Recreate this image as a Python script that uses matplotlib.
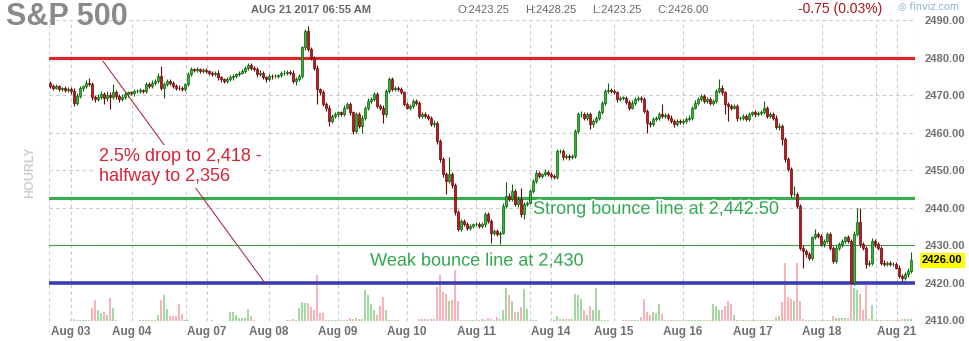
import numpy as np
import matplotlib
matplotlib.use('Agg')
import matplotlib.pyplot as plt
import matplotlib.patheffects as pe

plt.rcParams['font.family'] = ['Liberation Sans', 'DejaVu Sans']

# hourly ES closes (one value per bar)
closes = [
    2472.5, 2472.0, 2472.3, 2471.6, 2471.8, 2471.3, 2471.6, 2471.0, 2468.0, 2469.8,
    2471.8, 2472.3, 2473.3, 2473.0, 2469.5, 2469.0, 2469.5, 2470.2, 2469.3, 2470.0,
    2469.5, 2470.7, 2469.8, 2469.0, 2469.5, 2470.2, 2470.7, 2470.5, 2471.0, 2471.1,
    2471.3, 2471.0, 2472.9, 2472.5, 2473.3, 2473.8, 2475.1, 2472.0, 2472.9, 2473.8,
    2473.3, 2472.5, 2472.0, 2471.8, 2471.6, 2472.9, 2475.6, 2476.9, 2476.7, 2476.9,
    2476.5, 2476.7, 2476.4, 2476.0, 2475.6, 2476.0, 2474.7, 2474.2, 2473.8, 2474.2,
    2474.7, 2475.1, 2475.6, 2476.0, 2476.4, 2477.3, 2478.0, 2477.3, 2476.9, 2475.6,
    2476.0, 2474.7, 2474.2, 2475.1, 2475.0, 2475.1, 2475.3, 2475.8, 2476.0, 2476.2,
    2476.0, 2473.8, 2474.3, 2475.1, 2482.7, 2487.1, 2482.2, 2480.0, 2477.3, 2471.5,
    2470.7, 2467.6, 2466.7, 2463.1, 2464.5, 2464.9, 2465.4, 2465.0, 2466.7, 2467.6,
    2465.4, 2460.5, 2464.9, 2461.8, 2464.0, 2466.7, 2468.5, 2469.0, 2470.2, 2467.1,
    2466.7, 2464.9, 2471.1, 2474.2, 2471.6, 2472.0, 2471.6, 2470.7, 2467.6, 2466.7,
    2467.1, 2468.5, 2468.0, 2464.5, 2464.9, 2464.5, 2464.0, 2462.2, 2462.7, 2457.8,
    2452.9, 2448.9, 2447.2, 2448.9, 2446.0, 2438.8, 2434.3, 2436.5, 2435.6, 2434.7,
    2435.2, 2435.6, 2435.6, 2435.2, 2435.6, 2438.3, 2436.5, 2433.4, 2433.8, 2433.0,
    2433.4, 2440.5, 2443.2, 2442.3, 2444.5, 2440.9, 2442.3, 2438.3, 2440.9, 2441.4,
    2444.5, 2447.2, 2449.4, 2448.5, 2449.0, 2449.6, 2449.0, 2448.5, 2448.2, 2455.1,
    2455.1, 2453.4, 2453.8, 2453.4, 2453.8, 2460.5, 2464.9, 2464.9, 2464.0, 2464.9,
    2462.2, 2463.1, 2464.0, 2465.4, 2468.0, 2471.1, 2471.3, 2471.1, 2470.7, 2468.9,
    2469.3, 2469.3, 2468.2, 2466.7, 2468.0, 2468.9, 2469.3, 2468.9, 2465.8, 2462.7,
    2462.2, 2463.6, 2464.0, 2464.9, 2464.5, 2464.7, 2464.0, 2463.1, 2462.2, 2463.1,
    2462.9, 2463.1, 2463.6, 2464.0, 2466.7, 2468.0, 2468.9, 2469.8, 2468.5, 2468.9,
    2468.0, 2468.5, 2471.1, 2472.0, 2470.7, 2467.6, 2467.1, 2466.7, 2467.1, 2463.8,
    2464.0, 2464.5, 2463.6, 2464.9, 2465.4, 2464.9, 2465.2, 2465.4, 2466.7, 2464.5,
    2464.9, 2464.0, 2461.4, 2461.8, 2458.3, 2452.9, 2450.3, 2443.6, 2443.6, 2440.5,
    2429.4, 2428.5, 2427.6, 2426.7, 2432.1, 2433.0, 2432.5, 2430.3, 2431.2, 2433.0,
    2429.4, 2425.8, 2429.4, 2430.3, 2431.2, 2432.1, 2431.2, 2420.1, 2433.0, 2436.1,
    2430.3, 2429.4, 2425.0, 2425.4, 2431.2, 2430.3, 2429.4, 2425.4, 2425.0, 2425.4,
    2425.0, 2425.0, 2424.1, 2421.9, 2421.4, 2422.3, 2423.25, 2426.0,
]
first_open = 2473.25

# wick length above / below each body
wick_hi = [
    0.5, 0.4, 0.6, 0.5, 0.4, 0.5, 0.6, 0.5, 0.8, 0.7, 0.6, 0.5, 0.8, 1.2, 0.6, 0.5, 0.7, 0.9, 0.6, 1.0,
    0.8, 2.2, 0.6, 0.5, 0.7, 0.6, 0.5, 0.4, 0.5, 0.6, 0.5, 0.4, 0.6, 0.5, 0.7, 0.6, 0.8, 2.7, 0.6, 0.5,
    0.5, 0.4, 0.5, 0.6, 0.5, 0.4, 0.6, 0.5, 0.4, 0.5, 0.4, 0.5, 0.6, 0.4, 0.5, 0.5, 0.6, 0.5, 0.4, 0.5,
    0.6, 0.5, 0.4, 0.5, 0.6, 0.5, 0.6, 0.5, 0.4, 0.5, 0.6, 0.5, 0.4, 0.5, 0.4, 0.5, 0.4, 0.5, 0.6, 0.5,
    0.5, 0.6, 0.5, 0.4, 0.5, 0.4, 1.4, 0.6, 0.5, 0.8, 0.5, 0.6, 0.5, 0.7, 0.5, 0.6, 0.5, 0.4, 0.6, 0.5,
    0.7, 0.5, 0.6, 0.5, 0.6, 0.5, 0.8, 0.5, 0.6, 0.5, 0.5, 0.6, 0.5, 0.7, 0.6, 0.5, 0.5, 0.6, 0.5, 0.5,
    0.5, 0.6, 0.5, 0.5, 0.6, 0.5, 0.4, 0.5, 0.6, 0.5, 0.6, 0.5, 0.7, 4.5, 0.6, 0.5, 0.5, 0.6, 0.5, 0.5,
    0.5, 0.4, 0.5, 0.6, 0.5, 0.6, 0.5, 0.5, 0.6, 0.5, 0.5, 0.8, 3.6, 0.7, 1.8, 0.6, 0.8, 3.1, 0.6, 0.5,
    0.6, 0.5, 0.6, 0.5, 0.4, 0.6, 0.5, 0.5, 0.4, 0.6, 0.5, 0.6, 0.5, 0.4, 0.5, 0.6, 0.5, 0.8, 0.5, 0.6,
    0.5, 0.6, 0.5, 0.6, 0.5, 0.6, 2.0, 0.6, 0.5, 0.5, 0.6, 0.5, 0.5, 0.6, 0.7, 0.5, 0.6, 0.5, 0.5, 0.6,
    0.5, 0.6, 0.5, 0.6, 2.7, 0.5, 0.5, 0.6, 0.5, 0.5, 0.6, 0.5, 0.5, 0.6, 0.5, 0.6, 0.5, 0.6, 0.5, 0.6,
    0.5, 0.6, 0.5, 2.2, 0.6, 0.5, 0.5, 0.6, 0.5, 0.6, 0.5, 0.6, 0.5, 0.6, 0.5, 0.6, 0.5, 0.6, 1.8, 0.5,
    0.6, 0.5, 0.6, 0.8, 0.6, 0.5, 0.6, 0.5, 2.2, 0.6, 0.5, 0.6, 0.5, 0.6, 0.5, 1.3, 0.6, 0.5, 0.6, 0.5,
    0.6, 0.5, 0.6, 0.5, 0.6, 0.5, 0.6, 0.5, 0.7, 3.9, 3.9, 0.6, 0.5, 0.6, 0.8, 0.5, 0.6, 0.5, 0.6, 0.5,
    0.5, 0.6, 0.5, 0.6, 0.5, 0.6, 0.7, 2.25,
]
wick_lo = [
    0.5, 0.6, 0.5, 0.6, 0.5, 0.4, 0.5, 0.6, 0.9, 0.6, 0.5, 0.6, 0.5, 0.6, 0.8, 0.7, 0.6, 0.5, 1.7, 0.8,
    3.3, 0.6, 0.9, 0.7, 0.6, 0.5, 0.6, 0.5, 0.6, 0.5, 0.6, 0.5, 0.5, 0.6, 0.5, 0.6, 0.5, 0.7, 2.7, 0.6,
    0.6, 0.5, 0.6, 0.5, 0.6, 0.5, 0.5, 0.6, 0.5, 0.6, 0.5, 0.6, 0.5, 0.6, 0.5, 0.6, 0.7, 0.6, 0.5, 0.6,
    0.5, 0.6, 0.5, 0.6, 0.5, 0.6, 0.5, 0.6, 0.5, 0.7, 0.6, 0.5, 0.6, 0.5, 0.6, 0.5, 0.6, 0.5, 0.5, 0.6,
    0.6, 0.5, 1.2, 0.6, 0.5, 0.6, 0.5, 0.6, 0.5, 3.9, 0.6, 0.5, 0.8, 1.3, 0.6, 0.5, 0.6, 0.5, 0.6, 0.5,
    0.6, 0.9, 0.6, 0.6, 1.8, 0.5, 0.6, 0.5, 0.6, 0.5, 0.6, 2.2, 0.6, 0.5, 0.6, 0.5, 0.6, 0.5, 0.6, 0.5,
    0.6, 0.5, 0.6, 0.5, 0.6, 0.5, 0.6, 0.5, 0.6, 0.7, 0.6, 0.8, 3.6, 0.6, 0.7, 0.6, 0.5, 0.6, 0.5, 0.6,
    0.5, 0.6, 0.5, 0.6, 0.5, 0.6, 0.5, 2.7, 0.6, 0.5, 2.7, 0.5, 0.6, 0.5, 0.6, 0.5, 0.6, 0.7, 1.3, 0.5,
    0.5, 0.6, 0.5, 0.6, 0.5, 0.6, 0.5, 0.6, 0.5, 0.6, 0.5, 0.6, 0.5, 0.6, 0.5, 0.6, 0.5, 0.6, 0.5, 0.6,
    1.3, 0.6, 0.5, 0.6, 0.5, 0.6, 0.5, 0.6, 0.5, 0.6, 0.5, 0.6, 0.5, 0.6, 0.5, 0.6, 0.5, 0.6, 0.5, 2.7,
    0.6, 0.5, 0.6, 0.5, 0.6, 0.5, 0.6, 0.5, 0.6, 0.5, 0.6, 0.5, 0.6, 0.5, 0.6, 0.5, 0.6, 0.5, 0.6, 0.5,
    0.6, 0.5, 0.6, 0.5, 0.6, 2.6, 4.0, 0.6, 0.5, 0.6, 0.5, 0.6, 0.5, 0.6, 0.5, 0.6, 0.5, 0.6, 0.5, 0.6,
    0.5, 0.6, 0.5, 0.6, 1.5, 0.6, 0.5, 0.6, 0.5, 0.6, 0.5, 4.4, 0.6, 0.5, 0.6, 0.5, 0.6, 0.5, 0.6, 0.5,
    0.6, 0.4, 0.6, 0.5, 0.6, 0.5, 0.6, 0.1, 0.6, 0.5, 0.6, 0.5, 1.0, 0.6, 0.5, 0.6, 0.5, 0.6, 0.5, 0.6,
    0.5, 0.6, 0.5, 0.6, 0.9, 0.5, 0.6, 0.5,
]

# volume, relative (bar height in pixels on the original)
volume = [
    0, 0, 0, 0, 0, 0, 0, 1, 2, 1, 1, 1, 1, 1, 13, 21, 11, 8, 9, 6,
    23, 13, 1, 0, 0, 0, 0, 0, 0, 0, 1, 1, 1, 1, 1, 1, 6, 21, 26, 12,
    5, 5, 5, 17, 7, 1, 1, 0, 0, 0, 0, 0, 0, 0, 1, 0, 0, 0, 0, 0,
    9, 9, 6, 3, 3, 3, 12, 5, 1, 0, 0, 0, 0, 0, 0, 0, 0, 0, 0, 1,
    1, 2, 1, 13, 19, 18, 18, 14, 11, 46, 8, 8, 1, 1, 1, 1, 1, 1, 1, 1,
    3, 2, 3, 2, 2, 31, 26, 17, 11, 6, 15, 24, 11, 1, 1, 1, 1, 0, 0, 0,
    0, 0, 0, 2, 2, 2, 2, 2, 2, 34, 46, 29, 27, 20, 21, 51, 20, 1, 1, 1,
    1, 1, 1, 1, 2, 1, 3, 2, 1, 4, 2, 11, 33, 26, 20, 9, 9, 14, 32, 12,
    1, 1, 1, 0, 0, 0, 0, 0, 1, 5, 2, 2, 2, 2, 2, 27, 26, 22, 11, 6,
    15, 11, 33, 11, 1, 1, 1, 0, 0, 0, 0, 1, 1, 1, 1, 1, 1, 4, 22, 9,
    6, 9, 8, 17, 7, 1, 1, 1, 1, 1, 1, 1, 1, 1, 1, 1, 1, 1, 1, 1,
    1, 17, 15, 11, 11, 15, 20, 17, 6, 1, 1, 1, 1, 1, 1, 1, 1, 1, 1, 1,
    1, 1, 4, 5, 19, 58, 24, 22, 20, 58, 20, 2, 1, 1, 1, 1, 1, 1, 1, 1,
    1, 5, 3, 3, 3, 3, 3, 36, 33, 31, 27, 11, 36, 2, 16, 1, 1, 1, 1, 1,
    1, 1, 1, 1, 2, 2, 2, 2,
]

day_labels = ['Aug 03', 'Aug 04', 'Aug 07', 'Aug 08', 'Aug 09', 'Aug 10', 'Aug 11',
              'Aug 14', 'Aug 15', 'Aug 16', 'Aug 17', 'Aug 18', 'Aug 21']
day_bars = [7.0, 27.3, 52.3, 73.0, 96.0, 119.0, 142.0, 167.0, 188.0, 211.0, 234.3, 257.3, 282.3]
week_breaks = [45.3, 160.0, 275.3]

resistance = 2480
strong_line = 2442.5
weak_line = 2430
support = 2420
last_price = 2426.00

W, H = 969, 341
fig = plt.figure(figsize=(W / 100, H / 100), dpi=100)
fig.patch.set_facecolor('white')

def fx(px):
    return px / W

def fy(py):
    return 1 - py / H

# plot area: x 49..915 px, y 20..320.5 px
ax = fig.add_axes([fx(49), fy(320.5), (915 - 49) / W, 300.5 / H])
vax = ax.twinx()
ax.set_zorder(2)
ax.patch.set_visible(False)
vax.set_zorder(1)

n = len(closes)
x = np.arange(n)
c = np.array(closes)
o = np.concatenate([[first_open], c[:-1]])
up = c >= o
top = np.maximum(o, c)
bot = np.minimum(o, c)
hi = top + np.array(wick_hi)
lo = bot - np.array(wick_lo)
body = np.maximum(top - bot, 0.15)

# volume underneath
vcol = np.where(up, '#a3d9a0', '#f7b3b8')
vax.bar(x, volume, width=0.95, color=vcol, linewidth=0)
vax.set_ylim(0, 300.5)
vax.axis('off')

xmin, xmax = -1 / 3, 865 / 3
ax.set_xlim(xmin, xmax)
ax.set_ylim(2410, 2490)

# dashed grid
grid_kw = dict(color='#c9c9c9', lw=0.8, ls=(0, (3, 3)), zorder=0)
for yv in range(2410, 2491, 10):
    ax.axhline(yv, **grid_kw)
for xv in day_bars + week_breaks + [xmin, xmax]:
    ax.axvline(xv, **grid_kw)

# level lines
ax.axhline(resistance, color='#d9262c', lw=2.3, zorder=3)
ax.axhline(strong_line, color='#3aaa55', lw=2.3, zorder=3)
ax.axhline(weak_line, color='#3f9f50', lw=0.8, zorder=3)
ax.axhline(support, color='#3b3db3', lw=2.6, zorder=3)

# diagonal guide line (partly hidden by the label box)
ax.plot([17.7, 72.0], [2479.0, 2419.6], color='#a31a2c', lw=0.7, zorder=4)

# candles
ecol = np.where(up, '#0b650b', '#6a0707')
fcol = np.where(up, '#2fb52f', '#c4161c')
ax.vlines(x, lo, hi, color=ecol, lw=0.8, zorder=5)
ax.bar(x, body, bottom=bot, width=0.66, color=fcol, edgecolor=ecol, linewidth=0.5, zorder=6)

# annotations
ax.text(16.3, 2451.0, '2.5% drop to 2,418 -\nhalfway to 2,356', color='#d6243a', fontsize=13,
        va='center', ha='left', linespacing=1.3, zorder=7,
        bbox=dict(facecolor='white', edgecolor='none', pad=2))
halo = [pe.withStroke(linewidth=2.5, foreground='white')]
ax.text(161.0, 2439.6, 'Strong bounce line at 2,442.50', color='#2fa84f', fontsize=13,
        va='center', ha='left', zorder=7, path_effects=halo)
ax.text(106.7, 2425.8, 'Weak bounce line at 2,430', color='#2fa84f', fontsize=13,
        va='center', ha='left', zorder=7, path_effects=halo)

# axes cosmetics
for s in ax.spines.values():
    s.set_visible(False)
ax.yaxis.tick_right()
ax.set_yticks(range(2410, 2491, 10))
ax.set_yticklabels([f'{v:.2f}' for v in range(2410, 2491, 10)], color='#707070',
                   fontsize=8, fontweight='bold')
ax.tick_params(axis='y', length=0, pad=7)
ax.set_xticks(day_bars)
ax.set_xticklabels(day_labels, color='#707070', fontsize=8.5, fontweight='bold')
ax.tick_params(axis='x', length=0, pad=4)

# last price tag
ax.text(1.0 + 7 / 866, last_price, f'{last_price:.2f}', transform=ax.get_yaxis_transform(),
        fontsize=8, fontweight='bold', color='black', va='center', ha='left', zorder=8,
        bbox=dict(facecolor='#ffff00', edgecolor='none', pad=1.5), clip_on=False)

# header
fig.text(fx(6), fy(17), 'S&P 500', fontsize=22, fontweight='bold', color='#8a8a8a', va='center')
fig.text(fx(251), fy(10), 'AUG 21 2017 06:55 AM', fontsize=8, fontweight='bold',
         color='#666666', va='center')
for px_, s in [(458, 'O:2423.25'), (525, 'H:2428.25'), (592, 'L:2423.25'), (657, 'C:2426.00')]:
    fig.text(fx(px_), fy(10), s, fontsize=8, color='#666666', va='center')
fig.text(fx(798), fy(9), '-0.75 (0.03%)', fontsize=10, color='#b3131c', va='center')
fig.text(fx(898), fy(7), '\u25ce finviz.com', fontsize=7, color='#86aedb', va='center',
         family=['DejaVu Sans'])
fig.text(fx(30), fy(172), 'HOURLY', fontsize=9, fontweight='bold', color='#cfcfcf',
         rotation=90, ha='center', va='center')

fig.savefig('out.png', dpi=100, facecolor='white')
